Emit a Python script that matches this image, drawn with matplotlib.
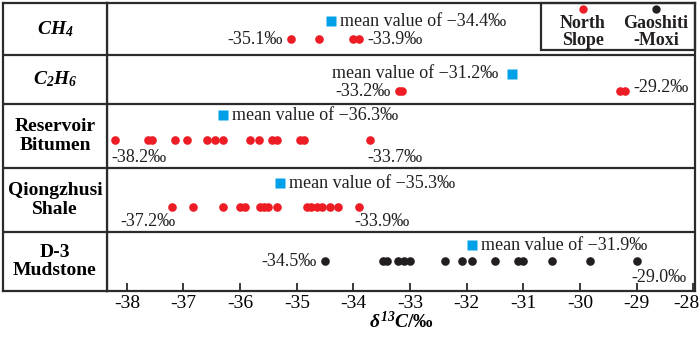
import numpy as np
import matplotlib
matplotlib.use('Agg')
import matplotlib.pyplot as plt
from matplotlib.patches import Rectangle
from matplotlib.transforms import ScaledTranslation

plt.rcParams['font.family'] = ['Liberation Serif', 'DejaVu Serif']
plt.rcParams['axes.unicode_minus'] = False
plt.rcParams['mathtext.fontset'] = 'custom'
plt.rcParams['mathtext.it'] = 'Liberation Serif:italic:bold'
plt.rcParams['mathtext.rm'] = 'Liberation Serif:italic:bold'
plt.rcParams['mathtext.bf'] = 'Liberation Serif:bold'

# row labels (top to bottom)
categories = [r'$CH_4$', r'$C_2H_6$', 'Reservoir\nBitumen', 'Qiongzhusi\nShale', 'D-3\nMudstone']

# delta13C values, per row
ch4 = [-35.1, -34.6, -34.0, -33.9]
c2h6 = [-33.2, -33.15, -29.3, -29.2]
bitumen = [-38.2, -37.62, -37.56, -37.15, -36.93, -36.58, -36.44, -36.31,
           -35.82, -35.66, -35.44, -35.35, -34.95, -34.87, -33.7]
qiong = [-37.2, -36.84, -36.31, -36.01, -35.91, -35.65, -35.58, -35.50,
         -35.35, -34.82, -34.74, -34.65, -34.56, -34.42, -34.27, -33.9]
d3 = [-34.5, -33.48, -33.40, -33.21, -33.10, -33.0, -32.38, -32.09,
      -31.91, -31.50, -31.09, -31.0, -30.50, -29.82, -29.0]
series = [ch4, c2h6, bitumen, qiong, d3]

means = [-34.4, -31.2, -36.3, -35.3, -31.9]
min_labels = ['-35.1‰', '-33.2‰', '-38.2‰', '-37.2‰', '-34.5‰']
max_labels = ['-33.9‰', '-29.2‰', '-33.7‰', '-33.9‰', '-29.0‰']
xticks = list(range(-38, -27))

# layout (y in pixels from the top of the plot box)
row_edges = [0, 52, 101, 165, 229, 288]
point_y = [36, 88, 137, 204, 258]
square_y = [18, 71, 112, 180, 242]
red, black, blue = '#ee1c24', '#231f20', '#00a0e9'
line_c = '#2b2b2b'
colors = [red, red, red, red, black]
mean_side = ['right', 'left', 'right', 'right', 'right']
# (dx, dy, ha) in pixels for min and max labels
min_pos = [(-8, 0, 'right'), (-8, 0, 'right'), (-4, -17, 'left'), (3, -15, 'right'), (-8, 0, 'right')]
max_pos = [(8, 0, 'left'), (8, 3, 'left'), (-3, -17, 'left'), (-5, -15, 'left'), (-5, -17, 'left')]

W, H = 699, 337
fig = plt.figure(figsize=(W / 100, H / 100), dpi=100)
ax = fig.add_axes([107 / W, (H - 291) / H, (695 - 107) / W, (291 - 3) / H])
lab = fig.add_axes([3 / W, (H - 291) / H, (107 - 3) / W, (291 - 3) / H])

ax.set_xlim(-38.35, -27.97)
ax.set_ylim(288, 0)
lab.set_xlim(0, 1)
lab.set_ylim(288, 0)

for a in (ax, lab):
    for s in a.spines.values():
        s.set_color(line_c)
        s.set_linewidth(1.6)
    for e in row_edges[1:-1]:
        a.axhline(e, color=line_c, lw=1.6)
lab.set_xticks([])
lab.set_yticks([])
ax.set_yticks([])

for i, name in enumerate(categories):
    yc = (row_edges[i] + row_edges[i + 1]) / 2
    lab.text(0.5, yc, name, ha='center', va='center', fontsize=14,
             fontweight='bold', linespacing=1.15)

for i, vals in enumerate(series):
    ax.plot(vals, [point_y[i]] * len(vals), 'o', color=colors[i], ms=6.2, mec='none')
    ax.plot([means[i]], [square_y[i]], 's', color=blue, ms=7, mec='none')
    txt = 'mean value of \u2212' + ('%.1f‰' % abs(means[i]))
    if mean_side[i] == 'right':
        ax.annotate(txt, (means[i], square_y[i]), xytext=(9, 0), textcoords='offset pixels',
                    ha='left', va='center', fontsize=13, color=black)
    else:
        ax.annotate(txt, (means[i], square_y[i]), xytext=(-14, 0), textcoords='offset pixels',
                    ha='right', va='center', fontsize=13, color=black)
    dx, dy, ha = min_pos[i]
    ax.annotate(min_labels[i], (min(vals), point_y[i]), xytext=(dx, dy), textcoords='offset pixels',
                ha=ha, va='center', fontsize=13, color=black)
    dx, dy, ha = max_pos[i]
    ax.annotate(max_labels[i], (max(vals), point_y[i]), xytext=(dx, dy), textcoords='offset pixels',
                ha=ha, va='center', fontsize=13, color=black)

# legend box in the top right corner
ax.add_patch(Rectangle((0.738, 1 - 47 / 288), 0.262, 47 / 288, transform=ax.transAxes,
                       fill=False, ec=line_c, lw=1.6, clip_on=False))
for xf, c, name in [(0.8095, red, 'North\nSlope'), (0.9337, black, 'Gaoshiti\n-Moxi')]:
    ax.plot([xf], [1 - 6 / 288], 'o', color=c, ms=6, mec='none', transform=ax.transAxes)
    ax.text(xf, 1 - 29 / 288, name, transform=ax.transAxes, ha='center', va='center',
            fontsize=13, fontweight='bold', linespacing=1.05, color=black)

ax.set_xticks(xticks)
ax.set_xticklabels([str(t) for t in xticks])
ax.tick_params(axis='x', direction='in', length=6, width=1.3, color=line_c,
               labelsize=14, pad=3, top=False)
last = ax.get_xticklabels()[-1]
last.set_horizontalalignment('right')
last.set_transform(last.get_transform() + ScaledTranslation(6 / 100, 0, fig.dpi_scale_trans))
ax.set_xlabel(r'$\delta^{13}C$' + '/‰', fontsize=14, fontweight='bold', labelpad=-1)

fig.savefig('out.png', dpi=100)
